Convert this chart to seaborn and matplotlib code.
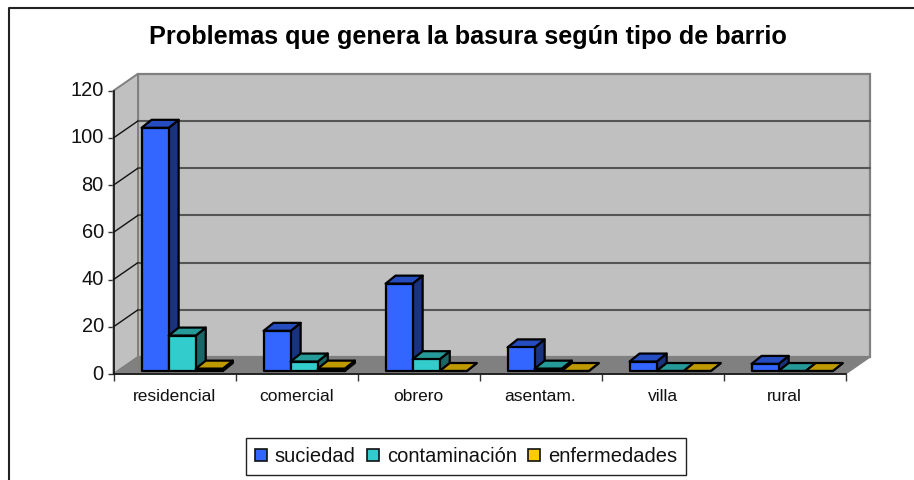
import matplotlib
matplotlib.use("Agg")
import matplotlib.pyplot as plt
from matplotlib.lines import Line2D
from matplotlib.patches import Polygon, Patch
from matplotlib.colors import to_rgb
import pandas as pd
import seaborn as sns

categories = ["residencial", "comercial", "obrero", "asentam.", "villa", "rural"]
suciedad = [103, 17, 37, 10, 4, 3]
contaminacion = [15, 4, 5, 1, 0, 0]
enfermedades = [1, 1, 0, 0, 0, 0]
series_names = ["suciedad", "contaminación", "enfermedades"]
series_colors = ["#3366FF", "#33CCCC", "#FFCC00"]
title = "Problemas que genera la basura según tipo de barrio"
y_ticks = [0, 20, 40, 60, 80, 100, 120]

W, H = 914, 480
sns.set_theme(style="white")
plt.rcParams["font.family"] = ["Liberation Sans", "DejaVu Sans"]

df = pd.DataFrame({
    "cat": categories * 3,
    "val": suciedad + contaminacion + enfermedades,
    "serie": sum([[n] * len(categories) for n in series_names], []),
})

fig = plt.figure(figsize=(W / 100, H / 100), dpi=100, facecolor="white")


def rect(x0, x1, ytop, ybot):
    return [x0 / W, 1 - ybot / H, (x1 - x0) / W, (ybot - ytop) / H]


FX0, FX1, FY0, FYT = 113.5, 845.5, 374.0, 90.7
ax = fig.add_axes(rect(FX0, FX1, FYT, FY0), facecolor="none")
BOFFX, BOFFY = 7.7, -3.0
axb = fig.add_axes(rect(FX0 + BOFFX, FX1 + BOFFX, FYT + BOFFY, FY0 + BOFFY), facecolor="none")

xlim = (-0.5, 5.5)
ylim = (0, 120)
ux = (xlim[1] - xlim[0]) / (FX1 - FX0)
uy = (ylim[1] - ylim[0]) / (FY0 - FYT)

# room: floor and walls
wx, wy = 24.5 * ux, 17 * uy
xa, xb = xlim
ya, yb = ylim
ax.add_patch(Polygon([(xa + wx, ya + wy), (xb + wx, ya + wy), (xb + wx, yb + wy), (xa + wx, yb + wy)],
                     fc="#C0C0C0", ec="#808080", lw=1.6, zorder=1, clip_on=False))
ax.add_patch(Polygon([(xa, ya), (xa + wx, ya + wy), (xa + wx, yb + wy), (xa, yb)],
                     fc="#C0C0C0", ec="#808080", lw=1.4, zorder=1, clip_on=False))
ax.add_patch(Polygon([(xa, ya), (xb, ya), (xb + wx, ya + wy), (xa + wx, ya + wy)],
                     fc="#808080", ec="#808080", lw=1, zorder=1.2, clip_on=False))
for v in y_ticks[1:-1]:
    ax.plot([xa + wx, xb + wx], [v + wy, v + wy], color="#555555", lw=1.5, zorder=1.5, clip_on=False)
    ax.plot([xa, xa + wx], [v, v + wy], color="#111111", lw=1.0, zorder=1.5, clip_on=False)

ax.set_xlim(*xlim)
ax.set_ylim(*ylim)
ax.set_xticks([i + 0.5 for i in range(-1, 6)])
ax.set_xticks(range(6), minor=True)
ax.set_xticklabels([])
ax.set_xticklabels(categories, minor=True, fontsize=12.5, color="#111111")
ax.tick_params(axis="x", which="major", length=5, width=1, color="#333333", bottom=True, top=False)
ax.tick_params(axis="x", which="minor", length=0, pad=11)
ax.set_yticks(y_ticks)
ax.set_yticklabels([str(v) for v in y_ticks], fontsize=14.4, color="#111111", va="center")
ax.tick_params(axis="y", length=4, width=1, color="#333333", left=True, pad=3)
for s in ["top", "right"]:
    ax.spines[s].set_visible(False)
for s in ["left", "bottom"]:
    ax.spines[s].set_color("#111111")
    ax.spines[s].set_linewidth(1.2)
    ax.spines[s].set_zorder(2)
ax.set_xlabel("")
ax.set_ylabel("")

# bars through seaborn, extruded from their own geometry
sns.barplot(data=df, x="cat", y="val", hue="serie", order=categories, hue_order=series_names,
            palette=series_colors, width=81.3 / 122, gap=0, saturation=1, ax=axb,
            edgecolor="black", linewidth=1.6, legend=False)
axb.set_xlim(*xlim)
axb.set_ylim(*ylim)
axb.axis("off")

dx, dy = 10 * ux, 8 * uy


def shade(c, f):
    return tuple(v * f for v in to_rgb(c))


for i, cont in enumerate(axb.containers):
    col = series_colors[i]
    for p in cont.patches:
        x0, w, h = p.get_x(), p.get_width(), p.get_height()
        p.set_zorder(3 + i + 0.5)
        p.set_clip_on(False)
        p.set_joinstyle("round")
        x1 = x0 + w
        axb.add_patch(Polygon([(x1, 0), (x1 + dx, dy), (x1 + dx, h + dy), (x1, h)],
                              fc=shade(col, 0.5), ec="black", lw=1.6, zorder=3 + i + 0.2,
                              clip_on=False, joinstyle="round"))
        axb.add_patch(Polygon([(x0, h), (x1, h), (x1 + dx, h + dy), (x0 + dx, h + dy)],
                              fc=shade(col, 0.75), ec="black", lw=1.6, zorder=3 + i + 0.3,
                              clip_on=False, joinstyle="round"))

fig.text(467.5 / W, 1 - 37 / H, title, ha="center", va="center", fontsize=18.2, fontweight="bold", color="black")

handles = [Patch(fc=c, ec="#111111", lw=1.2, label=n) for c, n in zip(series_colors, series_names)]
leg = fig.legend(handles=handles, ncols=3, loc="center", bbox_to_anchor=(466 / W, 1 - 456.5 / H),
                 fontsize=14.5, frameon=True, fancybox=False, edgecolor="#222222", facecolor="white",
                 framealpha=1, handlelength=0.6, handleheight=0.6, handletextpad=0.4,
                 columnspacing=0.55, borderpad=0.45, borderaxespad=0)
leg.get_frame().set_linewidth(1.0)
for t in leg.get_texts():
    t.set_color("#111111")

fig.add_artist(Line2D([8.5 / W, 8.5 / W, 1], [0, 1 - 8 / H, 1 - 8 / H], color="#222222", lw=1.5))
fig.savefig("out.png", dpi=100, facecolor="white")
